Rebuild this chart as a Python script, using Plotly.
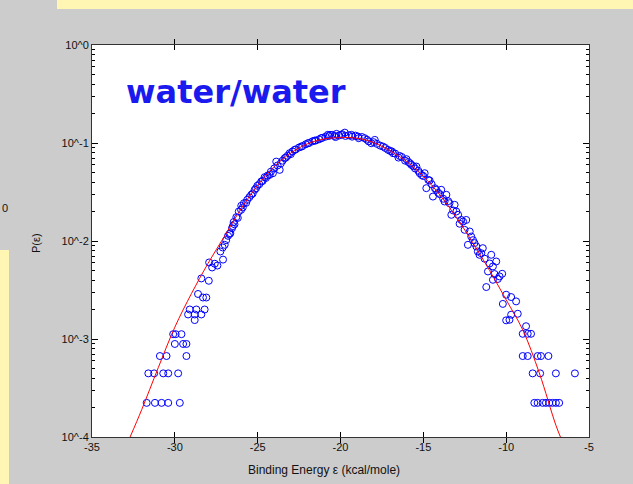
import plotly.graph_objects as go

# ---- data ----
# fitted curve (binding energy, probability)
eps_fit = [-32.7, -32.0, -31.0, -30.0, -29.0, -28.0, -27.0, -26.0, -25.0, -24.0, -23.0, -22.0,
           -21.0, -20.0, -19.0, -18.0, -17.0, -16.0, -15.0, -14.0, -13.0, -12.0, -11.0, -10.0,
           -9.0, -8.0, -7.0, -6.6]
p_fit = [1.0e-4, 1.9e-4, 5.1e-4, 1.32e-3, 2.9e-3, 5.9e-3, 1.12e-2, 2.14e-2, 3.7e-2, 5.75e-2, 7.9e-2, 9.8e-2,
         0.110, 0.1135, 0.112, 0.101, 0.083, 0.0646, 0.0457, 0.0295, 0.0174, 0.00955, 0.0050, 0.00251,
         1.24e-3, 4.5e-4, 1.32e-4, 8.9e-5]

# simulated histogram points (binding energy, probability)
eps_sim = [
    # left tail
    -31.7, -31.2, -30.8, -30.4, -29.7,
    -31.6, -31.25, -30.7, -30.4, -29.8,
    -30.9, -30.5, -29.3,
    -30.0, -29.5, -29.3,
    -30.1, -29.95, -29.6,
    -28.8, -29.2, -28.8, -28.4, -29.1, -28.7, -28.2,
    -28.3, -28.1, -28.6, -28.4, -27.95,
    # left flank
    -27.93, -27.75, -27.59, -27.43, -27.09, -27.25, -27.11, -26.99, -26.79, -26.65,
    -26.55, -26.45, -26.29, -26.14, -25.99, -25.83, -25.63, -25.39, -25.18, -25.02,
    -24.78, -24.58, -24.28, -24.08, -23.88, -23.67, -23.37, -23.07, -22.77, -22.37,
    -21.97, -21.57, -21.17, -20.77, -20.36, -19.96,
    -26.9, -26.7, -26.5, -26.4, -26.2, -26.0, -25.9, -25.7, -25.5, -25.3,
    -25.1, -24.9, -24.7, -24.5, -24.4, -24.2, -24.0, -23.8, -23.6, -23.5,
    -23.3, -23.2, -23.0, -22.9, -22.7, -22.5, -22.3, -22.1, -21.9, -21.7,
    -21.5, -21.3, -21.1, -20.9, -20.7, -20.5, -20.3, -20.1, -19.9, -19.7,
    -19.5, -19.3, -19.1, -18.9, -18.7, -18.4, -18.3, -18.0, -17.8, -17.6,
    -17.3, -17.0, -16.9, -16.7, -16.5, -16.3, -16.1, -15.9, -15.8, -15.6,
    -15.5, -15.3, -15.1, -15.0, -14.7, -14.5, -14.3, -14.1, -14.0, -13.8,
    -13.5, -13.2, -12.9, -12.6, -12.2, -12.0, -11.8, -11.5, -11.3, -11.0,
    -10.7, -10.5,
    # right flank
    -20.64, -20.24, -19.74, -19.34, -18.94, -18.54, -18.14, -17.93, -17.43, -17.13,
    -16.83, -16.43, -16.02, -15.72, -15.42, -15.22, -14.92, -14.82, -14.62, -14.42,
    -14.22, -13.92, -13.61, -13.72, -13.42, -13.11, -13.31, -13.01, -12.71, -12.81,
    -12.41, -12.51, -12.11, -12.31, -11.91, -11.71, -11.41, -11.61, -10.9, -11.1,
    -10.8, -10.6, -11.2, -10.8, -10.4, -10.24, -10.2, -10.0, -9.7, -9.4,
    -10.0, -9.8, -9.7, -9.3, -8.8, -9.0, -8.7, -8.5,
    # right tail
    -9.0, -8.7, -8.1, -7.9, -7.45,
    -8.4, -7.95, -7.0, -5.85,
    -8.3, -8.1, -7.8, -7.6, -7.4, -7.2, -7.0, -6.8,
]
p_sim = [
    2.23e-4, 2.23e-4, 2.23e-4, 2.23e-4, 2.23e-4,
    4.46e-4, 4.46e-4, 4.46e-4, 4.46e-4, 4.46e-4,
    6.7e-4, 6.7e-4, 6.7e-4,
    8.9e-4, 8.9e-4, 8.9e-4,
    1.12e-3, 1.12e-3, 1.12e-3,
    1.56e-3, 1.78e-3, 1.78e-3, 1.78e-3, 2.0e-3, 2.0e-3, 2.0e-3,
    2.65e-3, 2.65e-3, 2.88e-3, 4.15e-3, 3.93e-3,
    6.04e-3, 5.37e-3, 5.86e-3, 5.62e-3, 6.46e-3, 7.82e-3, 8.59e-3, 9.14e-3, 1.13e-2, 1.20e-2,
    1.35e-2, 1.56e-2, 1.75e-2, 2.00e-2, 2.29e-2, 2.43e-2, 2.63e-2, 2.96e-2, 3.33e-2, 3.66e-2,
    4.05e-2, 4.48e-2, 4.73e-2, 4.92e-2, 6.46e-2, 5.32e-2, 7.00e-2, 7.87e-2, 8.51e-2, 9.18e-2,
    9.95e-2, 0.1057, 0.1119, 0.1211, 0.1180, 0.1211,
    1.02e-2, 1.18e-2, 1.42e-2, 1.48e-2, 1.72e-2, 2.08e-2, 2.2e-2, 2.45e-2, 2.8e-2, 3.05e-2,
    3.45e-2, 3.8e-2, 4.1e-2, 4.4e-2, 4.65e-2, 5.1e-2, 5.5e-2, 5.9e-2, 6.2e-2, 6.6e-2,
    7.1e-2, 7.4e-2, 7.7e-2, 8.2e-2, 8.6e-2, 9.0e-2, 9.3e-2, 9.7e-2, 0.100, 0.104,
    0.106, 0.109, 0.113, 0.116, 0.118, 0.121, 0.115, 0.119, 0.123, 0.118,
    0.120, 0.116, 0.119, 0.112, 0.115, 0.108, 0.104, 0.102, 0.098, 0.094,
    0.089, 0.083, 0.082, 0.078, 0.071, 0.072, 0.066, 0.064, 0.062, 0.058,
    0.055, 0.052, 0.047, 0.046, 0.042, 0.038, 0.0345, 0.031, 0.030, 0.027,
    0.0255, 0.0205, 0.0185, 0.0158, 0.0125, 0.0102, 0.0088, 0.0075, 0.0066, 0.0059,
    0.0046, 0.0041,
    0.1211, 0.1239, 0.1276, 0.1211, 0.1164, 0.1119, 0.0995, 0.1076, 0.0918, 0.0851,
    0.0787, 0.0738, 0.0684, 0.0598, 0.0575, 0.0492, 0.0492, 0.0346, 0.0414, 0.0284,
    0.0333, 0.0333, 0.0296, 0.0253, 0.0243, 0.0234, 0.0185, 0.0200, 0.0164, 0.0150,
    0.0164, 0.0130, 0.0111, 0.00914, 0.00951, 0.00782, 0.00845, 0.00723, 0.00723, 0.00489,
    0.00550, 0.00618, 0.00339, 0.00402, 0.00435, 0.00463, 0.00228, 0.00283, 0.00268, 0.00242,
    0.00155, 0.00157, 0.00177, 0.00181, 0.00135, 0.00113, 0.00113, 0.00113,
    6.7e-4, 6.7e-4, 6.7e-4, 6.7e-4, 6.7e-4,
    4.46e-4, 4.46e-4, 4.46e-4, 4.46e-4,
    2.23e-4, 2.23e-4, 2.23e-4, 2.23e-4, 2.23e-4, 2.23e-4, 2.23e-4, 2.23e-4,
]

x_ticks = [-35, -30, -25, -20, -15, -10, -5]
y_ticks = [1e-4, 1e-3, 1e-2, 1e-1, 1]
y_tick_text = ["10^-4", "10^-3", "10^-2", "10^-1", "10^0"]
y_minor = [m * d for d in [1e-4, 1e-3, 1e-2, 1e-1] for m in range(2, 10)]

# ---- figure ----
W, H = 633, 484
ML, MR, MT, MB = 92, 44, 45, 47
PW, PH = W - ML - MR, H - MT - MB


def px(xp):
    return (xp - ML) / PW


def py(yp):
    return (H - MB - yp) / PH


fig = go.Figure()
fig.add_trace(go.Scatter(
    x=eps_sim, y=p_sim, mode="markers",
    marker=dict(symbol="circle-open", size=7, color="#0000ff", line=dict(width=1, color="#0000ff")),
    showlegend=False, hoverinfo="x+y"))
fig.add_trace(go.Scatter(
    x=eps_fit, y=p_fit, mode="lines", line=dict(color="#ff0000", width=1, shape="spline"),
    showlegend=False, yaxis="y2"))

axis_font = dict(family="Arial, Liberation Sans, sans-serif", size=11, color="#111111")
fig.update_layout(
    xaxis=dict(range=[-35, -5], tickmode="array", tickvals=x_ticks, ticktext=[str(v) for v in x_ticks],
               ticks="inside", ticklen=5, tickwidth=1, tickcolor="#000", showline=True, linecolor="#333",
               linewidth=1, mirror="allticks", showgrid=False, zeroline=False, tickfont=axis_font),
    yaxis=dict(type="log", range=[-4, 0], tickmode="array", tickvals=y_ticks, ticktext=y_tick_text,
               ticks="inside", ticklen=6, tickwidth=1, tickcolor="#000", showline=True, linecolor="#333",
               linewidth=1, mirror="allticks", showgrid=False, zeroline=False, tickfont=axis_font),
    yaxis2=dict(type="log", range=[-4, 0], overlaying="y", side="left", tickmode="array",
                tickvals=y_minor, ticktext=[""] * len(y_minor), ticks="inside", ticklen=3, tickwidth=1,
                tickcolor="#000", showline=False, mirror="allticks", showgrid=False, zeroline=False),
)

yellow = "#fff6b3"
fig.add_shape(type="rect", xref="paper", yref="paper", x0=px(57), x1=px(640), y0=py(9), y1=py(-5),
              fillcolor=yellow, line=dict(width=0), layer="below")
fig.add_shape(type="rect", xref="paper", yref="paper", x0=px(-5), x1=px(9), y0=py(490), y1=py(250),
              fillcolor=yellow, line=dict(width=0), layer="below")

fig.add_annotation(x=px(124), y=py(92), xref="paper", yref="paper", xanchor="left", yanchor="middle",
                   text="<b>water/water</b>", showarrow=False,
                   font=dict(family="Comic Sans MS, DejaVu Sans, sans-serif", size=32, color="#1a1aee"))
fig.add_annotation(x=px(324), y=py(470), xref="paper", yref="paper", xanchor="center", yanchor="middle",
                   text="Binding Energy ε (kcal/mole)", showarrow=False,
                   font=dict(family="Arial, Liberation Sans, sans-serif", size=12, color="#111"))
fig.add_annotation(x=px(36), y=py(243), xref="paper", yref="paper", xanchor="center", yanchor="middle",
                   text="P(ε)", textangle=-90, showarrow=False,
                   font=dict(family="Arial, Liberation Sans, sans-serif", size=11, color="#111"))
fig.add_annotation(x=px(0), y=py(208), xref="paper", yref="paper", xanchor="left", yanchor="middle",
                   text="0", showarrow=False,
                   font=dict(family="Arial, Liberation Sans, sans-serif", size=11, color="#111"))

fig.update_layout(width=W, height=H, margin=dict(l=ML, r=MR, t=MT, b=MB),
                  paper_bgcolor="#cccccc", plot_bgcolor="#ffffff")

fig.write_html("out.html")
